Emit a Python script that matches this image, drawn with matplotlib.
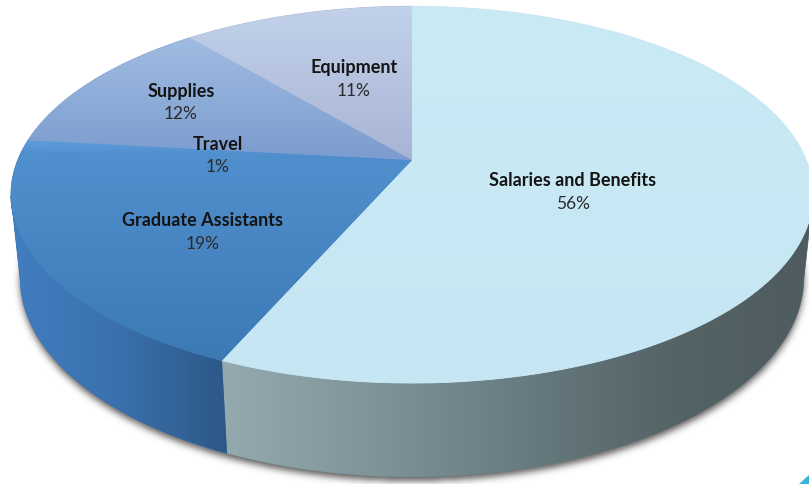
import numpy as np
import matplotlib
matplotlib.use("Agg")
import matplotlib.pyplot as plt
from matplotlib.patches import Polygon
from matplotlib.path import Path
from matplotlib.colors import LinearSegmentedColormap, to_rgb

# budget split
categories = ["Salaries and Benefits", "Graduate Assistants", "Travel", "Supplies", "Equipment"]
values = [56, 19, 1, 12, 11]

# top face colours (upper, lower) and side colours (left -> right)
top_colors = [("#CAEAF6", "#C6E6F3"), ("#5190CE", "#3C7AB6"), ("#5E9DDC", "#4C8ACA"),
              ("#A0BCE2", "#7B9CCE"), ("#C2D2EA", "#A8B4D5")]
side_colors = [["#95AAAE", "#7F959A", "#687C81", "#556467", "#4E5C5F"],
               ["#417EC0", "#3A70AD", "#2C5886"],
               ["#3F7CBF", "#3F7CBF"],
               ["#6F92C4", "#6F92C4"],
               ["#98A8CC", "#98A8CC"]]
label_xy = [(573, 181), (203, 221), (218, 144), (181, 91), (354, 68)]

W, H = 809, 484
TILT = np.radians(27.5)
DIST = 4.82
THICK = 0.24
SCALE = 1900
CX, CY = 412, 160


def project(theta, z):
    x, y = np.cos(theta), np.sin(theta)
    depth = DIST + y * np.cos(TILT) - z * np.sin(TILT)
    u = x / depth
    v = (y * np.sin(TILT) + z * np.cos(TILT)) / depth
    return np.column_stack([CX + SCALE * u, CY - SCALE * v])


def gradient_fill(ax, pts, colors, vertical, z):
    mid = colors[len(colors) // 2]
    ax.add_patch(Polygon(pts, closed=True, facecolor=mid, edgecolor=mid,
                         linewidth=0.6, zorder=z))
    clip = Polygon(pts, closed=True, facecolor="none", edgecolor="none", zorder=z)
    ax.add_patch(clip)
    cmap = LinearSegmentedColormap.from_list("g", colors)
    img = cmap(np.linspace(0, 1, 256))[:, :3]
    img = img[:, None, :] if vertical else img[None, :, :]
    x0, y0 = pts.min(axis=0)
    x1, y1 = pts.max(axis=0)
    im = ax.imshow(img, extent=(x0, x1, y1, y0), origin="upper", aspect="auto",
                   interpolation="bilinear", zorder=z + 0.1)
    im.set_clip_path(clip)


fig = plt.figure(figsize=(W / 100, H / 100), dpi=100)
ax = fig.add_axes([0, 0, 1, 1])
ax.set_axis_off()

total = sum(values)
cum = np.concatenate([[0], np.cumsum(values)])
starts = np.radians(90 - 360 * cum[:-1] / total)
ends = np.radians(90 - 360 * cum[1:] / total)

# soft shadow under the disc
full = np.linspace(0, 2 * np.pi, 400)
bottom = Path(project(full, -THICK) + [0, 4])
yy, xx = np.mgrid[0:H, 0:W] + 0.5
mask = bottom.contains_points(np.column_stack([xx.ravel(), yy.ravel()])).reshape(H, W).astype(float)
k = np.exp(-0.5 * (np.arange(-12, 13) / 3.5) ** 2)
k /= k.sum()
mask = np.apply_along_axis(lambda r: np.convolve(r, k, mode="same"), 1, mask)
mask = np.apply_along_axis(lambda c: np.convolve(c, k, mode="same"), 0, mask)
shadow = np.zeros((H, W, 4))
shadow[..., :3] = to_rgb("#3A3533")
shadow[..., 3] = 0.8 * mask
ax.imshow(shadow, extent=(0, W, H, 0), origin="upper", zorder=0)

# visible part of the outer wall
vis_lo, vis_hi = np.radians(-169), np.radians(-11)
for i in range(len(values)):
    a = min(starts[i], vis_hi)
    b = max(ends[i], vis_lo)
    if a <= b:
        continue
    th = np.linspace(a, b, 120)
    pts = np.vstack([project(th, 0), project(th[::-1], -THICK)])
    gradient_fill(ax, pts, side_colors[i], vertical=False, z=2)

# top faces
for i in range(len(values)):
    th = np.linspace(starts[i], ends[i], 200)
    pts = np.vstack([[[CX, CY]], project(th, 0)])
    gradient_fill(ax, pts, list(top_colors[i]), vertical=True, z=3)

# labels
for name, v, (x, y) in zip(categories, values, label_xy):
    ax.text(x, y, name, ha="center", va="center", fontsize=13, fontweight="bold",
            family="Lato", color="#141414", zorder=6)
    ax.text(x, y + 23, f"{v}%", ha="center", va="center", fontsize=12.5,
            family="Lato", color="#2A2A2A", zorder=6)

# corner accent
ax.add_patch(Polygon([[799, 484], [809, 475], [809, 484]], closed=True,
                     facecolor="#38B2DA", edgecolor="none", zorder=7))

ax.set_xlim(0, W)
ax.set_ylim(H, 0)
fig.savefig("out.png", dpi=100, facecolor="white")
